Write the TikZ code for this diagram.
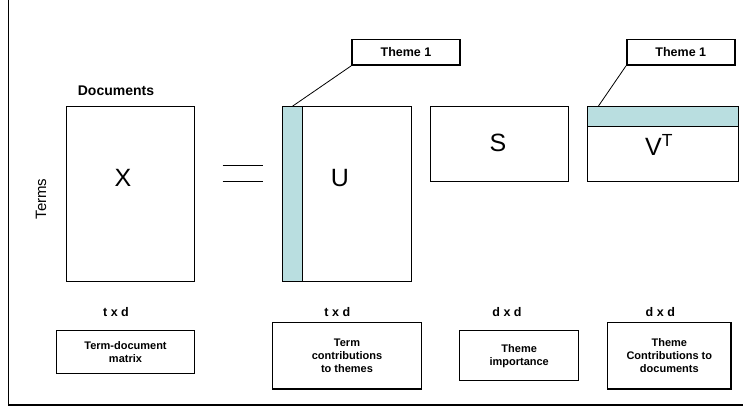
\documentclass[tikz,border=0pt]{standalone}
\usepackage{fontspec}
\setmainfont{Liberation Sans}
\usepackage{tikz}

\definecolor{themeblue}{RGB}{185,222,224}

\tikzset{
  mat/.style={draw, line width=1.1pt, inner sep=0pt},
  band/.style={mat, fill=themeblue},
  bigletter/.style={font=\fontsize{25}{29}\selectfont},
  dims/.style={font=\bfseries\fontsize{12.5}{14}\selectfont},
  tag/.style={draw, line width=1.5pt, inner sep=0pt, minimum width=108pt, minimum height=25.7pt, font=\bfseries\fontsize{12.5}{14}\selectfont},
  descr/.style={draw, line width=1.5pt, inner sep=0pt, align=center, font=\bfseries\fontsize{11}{13}\selectfont}
}

\begin{document}
\begin{tikzpicture}[x=1pt, y=-1pt]
\useasboundingbox (0,0) rectangle (743,408);

% frame
\draw[line width=1pt] (8,0) -- (8,405);
\draw[line width=2pt] (8,405) -- (743,405);

% X = U S V^T
\node[mat, minimum width=127.6pt, minimum height=174.3pt] (xmat) at (130.5,193.9) {};
\node[bigletter] (xlab) at (123,178) {X};
\node[font=\bfseries\fontsize{14}{16}\selectfont] (docs) at (116,91) {Documents};
\node[rotate=90, font=\fontsize{15}{17}\selectfont] (terms) at (41,199) {Terms};

\draw[line width=1pt] (222.7,165) -- (263.3,165);
\draw[line width=1pt] (222.7,181) -- (263.3,181);

\node[mat, minimum width=128.6pt, minimum height=174.3pt] (umat) at (347,193.9) {};
\node[band, minimum width=19.6pt, minimum height=174.3pt] (ucol) at (292.5,193.9) {};
\node[bigletter] (ulab) at (340,178) {U};

\node[mat, minimum width=137.7pt, minimum height=75pt] (smat) at (499.2,144.2) {};
\node[bigletter] (slab) at (498,143) {S};

\node[mat, minimum width=151pt, minimum height=75pt] (vmat) at (663.2,144.2) {};
\node[band, minimum width=151pt, minimum height=19.3pt] (vrow) at (663.2,116.4) {};
\node[bigletter] (vlab) at (659,145) {V\textsuperscript{T}};

% theme callouts
\node[tag] (tagu) at (406,52.2) {Theme 1};
\node[tag] (tagv) at (680.8,52.2) {Theme 1};
\coordinate (vtip) at (598,106.7);
\draw[line width=0.8pt] (tagu.south west) -- (ucol.north);
\draw[line width=0.8pt] (tagv.south west) -- (vtip);

% sizes
\node[dims] (dx) at (116,312) {t x d};
\node[dims] (du) at (337.3,312) {t x d};
\node[dims] (ds) at (507,312) {d x d};
\node[dims] (dv) at (660.3,312) {d x d};

% descriptions
\node[descr, minimum width=137.6pt, minimum height=42.6pt] (descx) at (125.5,352) {Term-document\\matrix};
\node[descr, minimum width=148.6pt, minimum height=66.7pt] (descu) at (347,355.7) {Term\\contributions\\to themes};
\node[descr, minimum width=119pt, minimum height=50pt] (descs) at (519.2,355.7) {Theme\\importance};
\node[descr, minimum width=123.3pt, minimum height=66.7pt] (descv) at (669.3,355.7) {Theme\\Contributions to\\documents};

\end{tikzpicture}
\end{document}
